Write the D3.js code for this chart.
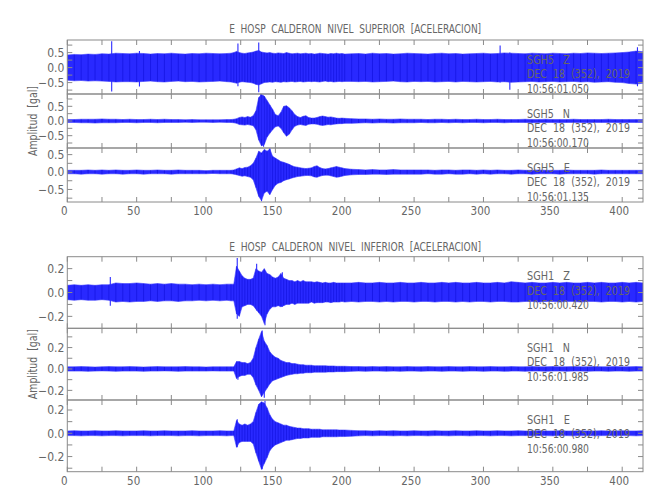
<!DOCTYPE html>
<html><head><meta charset="utf-8">
<script src="https://cdn.jsdelivr.net/npm/d3@7"></script>
<style>
html,body{margin:0;padding:0;background:#fff;}
svg text{font-family:"DejaVu Sans Condensed","Liberation Sans",sans-serif;fill:#666;white-space:pre;}
</style></head><body><svg id="c" width="650" height="500"></svg>
<script>
// ---------- data ----------
const times = [0,5,10,15,20,25,30,35,40,45,50,55,60,65,70,75,80,85,90,95,100,105,110,115,
 118,120,122,124,126,128,130,132,134,136,138,140,142,144,146,148,150,152,154,156,158,160,162,164,166,168,170,172,174,176,178,180,182,184,186,188,190,192,194,196,198,200,
 205,210,215,220,225,230,235,240,245,250,255,260,265,270,275,280,285,290,295,300,305,310,315,320,325,330,335,340,345,350,355,360,365,370,375,380,385,390,395,400,405,410,415];

const titles = ["E  HOSP  CALDERON  NIVEL  SUPERIOR  [ACELERACION]", "E  HOSP  CALDERON  NIVEL  INFERIOR  [ACELERACION]"];
const channels = ["SGH5   Z","SGH5   N","SGH5   E","SGH1   Z","SGH1   N","SGH1   E"];
const dateLabel = "DEC  18  (352),  2019";
const startTimes = ["10:56:01.050","10:56:00.170","10:56:01.135","10:56:00.420","10:56:01.985","10:56:00.980"];
const xTickLabels = [0,50,100,150,200,250,300,350,400];
const yLabel = "Amplitud  [gal]";
const yTicksTop = [-0.5,0,0.5];
const yTicksBottom = [-0.2,0,0.2];

// envelope maxima / minima of each trace (gal), read on the time grid above
const sgh5Z_hi = [0.42,0.44,0.43,0.45,0.44,0.46,0.45,0.48,0.47,0.46,0.48,0.47,0.45,0.47,0.46,0.48,0.46,0.45,0.47,0.46,0.48,0.47,0.46,0.47,
 0.48,0.50,0.54,0.50,0.48,0.47,0.49,0.50,0.52,0.55, 0.57,0.52,0.50,0.49,0.50,0.48,0.47,0.49,0.48,0.47, 0.50,0.48,0.46,0.47,0.48,0.46,0.47,0.48,0.46,0.47, 0.45,0.46,0.48,0.47,0.46,0.45,0.47,0.46,0.48,0.46, 0.47,0.45,
 0.46,0.47,0.45,0.48,0.46,0.47,0.45,0.46,0.48,0.47, 0.46,0.45,0.47,0.48,0.46,0.47,0.45,0.46,0.47,0.48, 0.46,0.47,0.49,0.48,0.47,0.46,0.48,0.47,0.46,0.48, 0.47,0.46,0.48,0.47,0.49,0.48,0.47,0.48,0.49,0.50, 0.52,0.55,0.53];
const sgh5Z_lo = [-0.42,-0.44,-0.43,-0.45,-0.44,-0.45,-0.46,-0.48,-0.47,-0.47,-0.48,-0.46,-0.45,-0.47,-0.48,-0.46,-0.45,-0.47,-0.46,-0.48,-0.47,-0.46,-0.45,-0.47,
 -0.48,-0.50,-0.52,-0.49,-0.47,-0.48,-0.49,-0.50,-0.52,-0.56, -0.58,-0.54,-0.50,-0.49,-0.48,-0.49,-0.47,-0.48,-0.49,-0.47, -0.48,-0.47,-0.46,-0.48,-0.47,-0.46,-0.48,-0.47,-0.46,-0.47, -0.46,-0.47,-0.48,-0.46,-0.45,-0.47,-0.46,-0.48,-0.47,-0.46, -0.47,-0.46,
 -0.46,-0.47,-0.46,-0.48,-0.47,-0.46,-0.45,-0.47,-0.48,-0.46, -0.47,-0.46,-0.48,-0.47,-0.46,-0.48,-0.46,-0.47,-0.48,-0.47, -0.46,-0.48,-0.47,-0.49,-0.48,-0.47,-0.46,-0.48,-0.47,-0.46, -0.48,-0.47,-0.46,-0.48,-0.47,-0.49,-0.48,-0.47,-0.49,-0.50, -0.53,-0.55,-0.52];
const sgh5Z_spikes = [[32,0.88,-0.80],[52,0.55,-0.63],[123,0.80,-0.62],[138,0.84,-0.82],[312,0.74,-0.50],[319,0.50,-0.74],[411,0.68,-0.62]];

const sgh5N_hi = [0.05,0.05,0.06,0.06,0.06,0.07,0.06,0.06,0.05,0.06,0.05,0.05,0.06,0.05,0.06,0.05,0.05,0.04,0.05,0.04,0.04,0.04,0.04,0.05,
 0.05,0.06,0.08,0.12,0.14,0.12,0.15,0.13,0.18,0.35, 0.80,0.90,0.85,0.70,0.55,0.40,0.22,0.18,0.30,0.50, 0.52,0.45,0.35,0.22,0.15,0.12,0.16,0.18,0.12,0.10, 0.10,0.12,0.15,0.17,0.15,0.13,0.14,0.12,0.10,0.09, 0.10,0.09,
 0.08,0.07,0.07,0.06,0.07,0.06,0.06,0.07,0.06,0.06, 0.06,0.05,0.06,0.06,0.05,0.06,0.05,0.05,0.06,0.05, 0.05,0.06,0.05,0.05,0.05,0.06,0.05,0.05,0.06,0.05, 0.05,0.05,0.06,0.05,0.05,0.05,0.05,0.06,0.05,0.05, 0.05,0.05,0.05];
const sgh5N_lo = [-0.05,-0.05,-0.06,-0.06,-0.07,-0.06,-0.06,-0.06,-0.05,-0.05,-0.06,-0.05,-0.05,-0.06,-0.05,-0.05,-0.05,-0.04,-0.05,-0.04,-0.04,-0.05,-0.04,-0.05,
 -0.05,-0.06,-0.08,-0.12,-0.13,-0.14,-0.12,-0.14,-0.16,-0.30, -0.65,-0.85,-0.80,-0.55,-0.42,-0.30,-0.20,-0.17,-0.25,-0.40, -0.52,-0.45,-0.30,-0.18,-0.14,-0.12,-0.14,-0.15,-0.11,-0.10, -0.10,-0.11,-0.14,-0.15,-0.14,-0.12,-0.13,-0.11,-0.10,-0.09, -0.09,-0.08,
 -0.08,-0.07,-0.06,-0.07,-0.06,-0.06,-0.07,-0.06,-0.06,-0.06, -0.05,-0.06,-0.06,-0.05,-0.06,-0.05,-0.06,-0.05,-0.05,-0.06, -0.05,-0.05,-0.06,-0.05,-0.05,-0.05,-0.06,-0.05,-0.05,-0.05, -0.06,-0.05,-0.05,-0.05,-0.06,-0.05,-0.05,-0.05,-0.05,-0.06, -0.05,-0.05,-0.05];
const sgh5N_spikes = [[139.5,0.92,-0.62],[141.5,0.60,-0.88]];

const sgh5E_hi = [0.05,0.05,0.05,0.06,0.05,0.06,0.05,0.06,0.05,0.05,0.06,0.05,0.05,0.06,0.05,0.05,0.06,0.05,0.05,0.05,0.04,0.05,0.05,0.05,
 0.05,0.06,0.09,0.12,0.10,0.13,0.14,0.18,0.25,0.40, 0.60,0.55,0.65,0.60,0.66,0.45,0.40,0.35,0.30,0.28, 0.25,0.22,0.18,0.15,0.14,0.12,0.11,0.10,0.11,0.12, 0.16,0.18,0.13,0.10,0.09,0.10,0.12,0.14,0.16,0.14, 0.12,0.10,
 0.08,0.07,0.06,0.07,0.06,0.06,0.07,0.06,0.06,0.06, 0.06,0.06,0.05,0.06,0.06,0.05,0.06,0.06,0.05,0.06, 0.05,0.06,0.05,0.05,0.06,0.05,0.05,0.06,0.05,0.05, 0.05,0.06,0.05,0.05,0.05,0.05,0.06,0.05,0.05,0.05, 0.05,0.05,0.05];
const sgh5E_lo = [-0.05,-0.05,-0.06,-0.05,-0.05,-0.06,-0.05,-0.05,-0.06,-0.05,-0.05,-0.06,-0.05,-0.05,-0.05,-0.06,-0.05,-0.05,-0.05,-0.05,-0.05,-0.04,-0.05,-0.05,
 -0.05,-0.06,-0.08,-0.10,-0.12,-0.11,-0.13,-0.15,-0.22,-0.45, -0.70,-0.82,-0.60,-0.55,-0.65,-0.50,-0.38,-0.32,-0.30,-0.25, -0.22,-0.20,-0.17,-0.15,-0.13,-0.12,-0.11,-0.10,-0.10,-0.11, -0.14,-0.15,-0.12,-0.10,-0.09,-0.09,-0.11,-0.13,-0.15,-0.14, -0.12,-0.10,
 -0.08,-0.07,-0.07,-0.06,-0.06,-0.07,-0.06,-0.06,-0.06,-0.06, -0.06,-0.05,-0.06,-0.06,-0.05,-0.06,-0.06,-0.05,-0.06,-0.05, -0.06,-0.05,-0.05,-0.06,-0.05,-0.05,-0.06,-0.05,-0.05,-0.05, -0.06,-0.05,-0.05,-0.05,-0.05,-0.06,-0.05,-0.05,-0.05,-0.05, -0.05,-0.05,-0.05];
const sgh5E_spikes = [[140,0.50,-0.84],[146,0.68,-0.60]];

const sgh1Z_hi = [0.060,0.065,0.060,0.065,0.060,0.065,0.065,0.080,0.075,0.075,0.080,0.075,0.070,0.075,0.070,0.075,0.070,0.070,0.065,0.070,0.065,0.070,0.065,0.070,
 0.07,0.07,0.22,0.18,0.14,0.12,0.11,0.11,0.12,0.20, 0.18,0.17,0.20,0.16,0.15,0.13,0.12,0.13,0.16,0.12, 0.11,0.10,0.10,0.09,0.10,0.09,0.10,0.09,0.09,0.09, 0.085,0.09,0.085,0.08,0.085,0.08,0.08,0.085,0.08,0.08, 0.08,0.08,
 0.08,0.085,0.08,0.08,0.085,0.08,0.08,0.085,0.08,0.08, 0.085,0.08,0.08,0.085,0.08,0.085,0.08,0.08,0.085,0.08, 0.08,0.085,0.08,0.09,0.085,0.08,0.085,0.08,0.08,0.085, 0.08,0.085,0.08,0.08,0.085,0.08,0.085,0.08,0.08,0.085, 0.08,0.085,0.08];
const sgh1Z_lo = [-0.060,-0.065,-0.060,-0.065,-0.065,-0.060,-0.065,-0.080,-0.075,-0.080,-0.075,-0.075,-0.070,-0.075,-0.070,-0.070,-0.075,-0.070,-0.070,-0.065,-0.070,-0.065,-0.070,-0.065,
 -0.07,-0.07,-0.18,-0.20,-0.12,-0.11,-0.10,-0.10,-0.11,-0.14, -0.17,-0.20,-0.26,-0.18,-0.14,-0.12,-0.12,-0.11,-0.12,-0.11, -0.10,-0.10,-0.09,-0.10,-0.09,-0.09,-0.09,-0.09,-0.09,-0.08, -0.09,-0.085,-0.085,-0.085,-0.08,-0.08,-0.085,-0.08,-0.08,-0.08, -0.075,-0.08,
 -0.075,-0.08,-0.075,-0.075,-0.08,-0.075,-0.08,-0.075,-0.075,-0.08, -0.075,-0.075,-0.08,-0.075,-0.075,-0.08,-0.075,-0.08,-0.075,-0.075, -0.08,-0.075,-0.075,-0.08,-0.08,-0.075,-0.075,-0.08,-0.075,-0.075, -0.08,-0.075,-0.075,-0.08,-0.075,-0.075,-0.08,-0.075,-0.075,-0.08, -0.075,-0.08,-0.075];
const sgh1Z_spikes = [[31,0.13,-0.11],[122.5,0.29,-0.22],[136.5,0.24,-0.15],[142.5,0.18,-0.275],[155,0.17,-0.12]];

const sgh1N_hi = [0.02,0.02,0.022,0.02,0.018,0.02,0.022,0.02,0.02,0.022,0.02,0.018,0.02,0.022,0.02,0.02,0.02,0.022,0.02,0.02,0.018,0.02,0.02,0.02,
 0.02,0.02,0.07,0.07,0.06,0.06,0.05,0.06,0.10,0.20, 0.28,0.35,0.26,0.22,0.16,0.13,0.11,0.10,0.08,0.07, 0.06,0.06,0.05,0.05,0.045,0.04,0.04,0.035,0.035,0.035, 0.03,0.03,0.03,0.03,0.03,0.028,0.028,0.028,0.025,0.025, 0.025,0.025,
 0.022,0.022,0.02,0.022,0.02,0.022,0.02,0.02,0.022,0.02, 0.02,0.022,0.02,0.02,0.022,0.02,0.02,0.022,0.02,0.02, 0.022,0.02,0.02,0.022,0.02,0.02,0.022,0.02,0.02,0.022, 0.02,0.02,0.022,0.02,0.02,0.022,0.02,0.02,0.022,0.02, 0.02,0.022,0.02];
const sgh1N_lo = [-0.02,-0.02,-0.02,-0.022,-0.02,-0.018,-0.02,-0.022,-0.02,-0.02,-0.02,-0.022,-0.02,-0.02,-0.018,-0.02,-0.022,-0.02,-0.02,-0.02,-0.02,-0.018,-0.02,-0.02,
 -0.02,-0.02,-0.09,-0.07,-0.06,-0.06,-0.05,-0.05,-0.08,-0.15, -0.20,-0.26,-0.22,-0.18,-0.14,-0.11,-0.10,-0.09,-0.08,-0.07, -0.06,-0.055,-0.05,-0.045,-0.045,-0.04,-0.04,-0.035,-0.035,-0.035, -0.03,-0.03,-0.03,-0.03,-0.03,-0.028,-0.028,-0.028,-0.025,-0.025, -0.025,-0.025,
 -0.022,-0.02,-0.022,-0.02,-0.02,-0.022,-0.02,-0.022,-0.02,-0.02, -0.022,-0.02,-0.02,-0.022,-0.02,-0.02,-0.022,-0.02,-0.02,-0.022, -0.02,-0.02,-0.022,-0.02,-0.02,-0.022,-0.02,-0.02,-0.022,-0.02, -0.02,-0.022,-0.02,-0.02,-0.022,-0.02,-0.02,-0.022,-0.02,-0.02, -0.022,-0.02,-0.02];
const sgh1N_spikes = [[123,0.05,-0.10],[140.5,0.36,-0.24],[142,0.20,-0.27]];

const sgh1E_hi = [0.02,0.022,0.02,0.02,0.022,0.02,0.02,0.022,0.02,0.02,0.02,0.022,0.02,0.02,0.022,0.02,0.02,0.02,0.022,0.02,0.02,0.02,0.022,0.02,
 0.02,0.02,0.11,0.08,0.07,0.08,0.07,0.08,0.10,0.18, 0.25,0.27,0.26,0.22,0.16,0.12,0.10,0.09,0.08,0.07, 0.07,0.06,0.055,0.05,0.045,0.045,0.04,0.04,0.04,0.035, 0.035,0.035,0.035,0.03,0.03,0.03,0.03,0.03,0.03,0.028, 0.028,0.028,
 0.025,0.022,0.022,0.02,0.022,0.02,0.022,0.02,0.02,0.022, 0.02,0.02,0.022,0.02,0.02,0.022,0.02,0.02,0.022,0.02, 0.02,0.022,0.02,0.02,0.022,0.02,0.02,0.022,0.02,0.02, 0.022,0.02,0.02,0.022,0.02,0.02,0.022,0.02,0.02,0.022, 0.02,0.02,0.022];
const sgh1E_lo = [-0.02,-0.02,-0.022,-0.02,-0.02,-0.022,-0.02,-0.02,-0.022,-0.02,-0.02,-0.02,-0.022,-0.02,-0.02,-0.02,-0.022,-0.02,-0.02,-0.022,-0.02,-0.02,-0.02,-0.022,
 -0.02,-0.02,-0.12,-0.08,-0.07,-0.07,-0.07,-0.07,-0.09,-0.17, -0.24,-0.31,-0.26,-0.21,-0.15,-0.12,-0.10,-0.09,-0.08,-0.07, -0.06,-0.06,-0.055,-0.05,-0.045,-0.045,-0.04,-0.04,-0.04,-0.035, -0.035,-0.035,-0.035,-0.03,-0.03,-0.03,-0.03,-0.03,-0.03,-0.028, -0.028,-0.028,
 -0.025,-0.022,-0.02,-0.022,-0.02,-0.02,-0.022,-0.02,-0.022,-0.02, -0.02,-0.022,-0.02,-0.02,-0.022,-0.02,-0.02,-0.022,-0.02,-0.02, -0.022,-0.02,-0.02,-0.022,-0.02,-0.02,-0.022,-0.02,-0.02,-0.022, -0.02,-0.02,-0.022,-0.02,-0.02,-0.022,-0.02,-0.02,-0.022,-0.02, -0.02,-0.022,-0.02];
const sgh1E_spikes = [[122.5,0.12,-0.12],[140.5,0.20,-0.31],[142.5,0.28,-0.22]];

const yDomains = [[-0.88,0.92],[-0.92,0.92],[-0.86,0.69],[-0.30,0.30],[-0.29,0.38],[-0.33,0.286]];

// ---------- layout ----------
const svg = d3.select("#c");
const X0 = 67.3, X1 = 643;
const x = d3.scaleLinear().domain([0,415]).range([X0,X1]);
const panels = [
  {title:titles[0], titleY:33, rows:[[40,94],[94,148],[148,202]], xLabY:215, yTicks:yTicksTop, minor:0.25},
  {title:titles[1], titleY:251, rows:[[256.7,328.3],[328.3,400],[400,471.7]], xLabY:485, yTicks:yTicksBottom, minor:0.1}
];
const traces = [
  {hi:sgh5Z_hi, lo:sgh5Z_lo, sp:sgh5Z_spikes},
  {hi:sgh5N_hi, lo:sgh5N_lo, sp:sgh5N_spikes},
  {hi:sgh5E_hi, lo:sgh5E_lo, sp:sgh5E_spikes},
  {hi:sgh1Z_hi, lo:sgh1Z_lo, sp:sgh1Z_spikes},
  {hi:sgh1N_hi, lo:sgh1N_lo, sp:sgh1N_spikes},
  {hi:sgh1E_hi, lo:sgh1E_lo, sp:sgh1E_spikes}
];
const axisColor = "#8a8a8a";
const minusFmt = v => (v < 0 ? "\u2212" : "") + Math.abs(v).toFixed(1);
const FS = 12;

panels.forEach((p, pi) => {
  svg.append("text").attr("x", (X0+X1)/2).attr("y", p.titleY).attr("text-anchor","middle")
    .attr("font-size", FS).attr("textLength", 252).attr("lengthAdjust","spacingAndGlyphs").text(p.title);
  const top = p.rows[0][0], bot = p.rows[2][1];
  svg.append("text").attr("transform", `translate(37,${(top+bot)/2}) rotate(-90)`)
    .attr("text-anchor","middle").attr("font-size", FS).attr("textLength", 70)
    .attr("lengthAdjust","spacingAndGlyphs").text(yLabel);

  p.rows.forEach((r, ri) => {
    const ti = pi*3 + ri, tr = traces[ti];
    const y = d3.scaleLinear().domain(yDomains[ti]).range([r[1], r[0]]);
    const g = svg.append("g");
    const cid = "clip"+ti;
    svg.append("clipPath").attr("id", cid).append("rect")
      .attr("x", X0).attr("y", r[0]).attr("width", X1-X0).attr("height", r[1]-r[0]);
    const n = Math.min(times.length, tr.hi.length, tr.lo.length);
    const idx = d3.range(n);
    const area = d3.area().x(i => x(times[i])).y0(i => y(tr.lo[i])).y1(i => y(tr.hi[i]));
    const tg = g.append("g").attr("clip-path", `url(#${cid})`);
    tg.append("path").attr("d", area(idx)).attr("fill", "#0000ff").attr("fill-opacity", 0.84)
      .attr("stroke", "#4040ff").attr("stroke-width", 0.8).attr("stroke-opacity", 0.75);
    // min/max strokes at every sample (decimated seismogram look)
    tg.selectAll("line.mm").data(idx).join("line")
      .attr("x1", i => x(times[i])).attr("x2", i => x(times[i]))
      .attr("y1", i => y(tr.lo[i])).attr("y2", i => y(tr.hi[i]))
      .attr("stroke", "#0000c8").attr("stroke-width", 0.8).attr("stroke-opacity", 0.5);
    tg.selectAll("line.sp").data(tr.sp).join("line")
      .attr("x1", d => x(d[0])).attr("x2", d => x(d[0]))
      .attr("y1", d => y(d[2])).attr("y2", d => y(d[1]))
      .attr("stroke", "#2a2aff").attr("stroke-width", 1.1);

    // frame
    g.append("rect").attr("x", X0).attr("y", r[0]).attr("width", X1-X0).attr("height", r[1]-r[0])
      .attr("fill","none").attr("stroke", axisColor).attr("stroke-width", 1);
    // x ticks every 25 (inward, top & bottom)
    const xt = d3.range(0, 416, 25);
    g.selectAll("line.xb").data(xt).join("line").attr("x1", d=>x(d)).attr("x2", d=>x(d))
      .attr("y1", r[1]).attr("y2", r[1]-5).attr("stroke", axisColor);
    g.selectAll("line.xt").data(xt).join("line").attr("x1", d=>x(d)).attr("x2", d=>x(d))
      .attr("y1", r[0]).attr("y2", r[0]+5).attr("stroke", axisColor);
    // y ticks
    const dom = yDomains[ti];
    const yt = d3.range(Math.ceil(dom[0]/p.minor-1e-9)*p.minor, dom[1]+1e-9, p.minor)
      .map(v => Math.round(v*1000)/1000).filter(v => v > dom[0] && v < dom[1]);
    g.selectAll("line.yl").data(yt).join("line").attr("x1", X0).attr("x2", X0+5)
      .attr("y1", d=>y(d)).attr("y2", d=>y(d)).attr("stroke", axisColor);
    g.selectAll("line.yr").data(yt).join("line").attr("x1", X1).attr("x2", X1-5)
      .attr("y1", d=>y(d)).attr("y2", d=>y(d)).attr("stroke", axisColor);
    g.selectAll("text.yl").data(p.yTicks).join("text").attr("x", X0-3).attr("y", d=>y(d))
      .attr("dy","0.36em").attr("text-anchor","end").attr("font-size", FS).text(minusFmt);

    // station labels
    const lab = svg.append("g");
    const lines = [[channels[ti], 43], [dateLabel, 103], [startTimes[ti], 62]];
    lines.forEach((s, k) => {
      lab.append("text").attr("x", 527).attr("y", r[0] + 23.5 + 14.5*k).attr("font-size", 11.5)
        .attr("textLength", s[1]).attr("lengthAdjust","spacingAndGlyphs").text(s[0]);
    });

    if (ri === 2) {
      svg.selectAll(null).data(xTickLabels).join("text").attr("x", d => x(d) - 3).attr("y", p.xLabY)
        .attr("text-anchor","middle").attr("font-size", 11.5).text(d => d);
    }
  });
});
</script></body></html>
